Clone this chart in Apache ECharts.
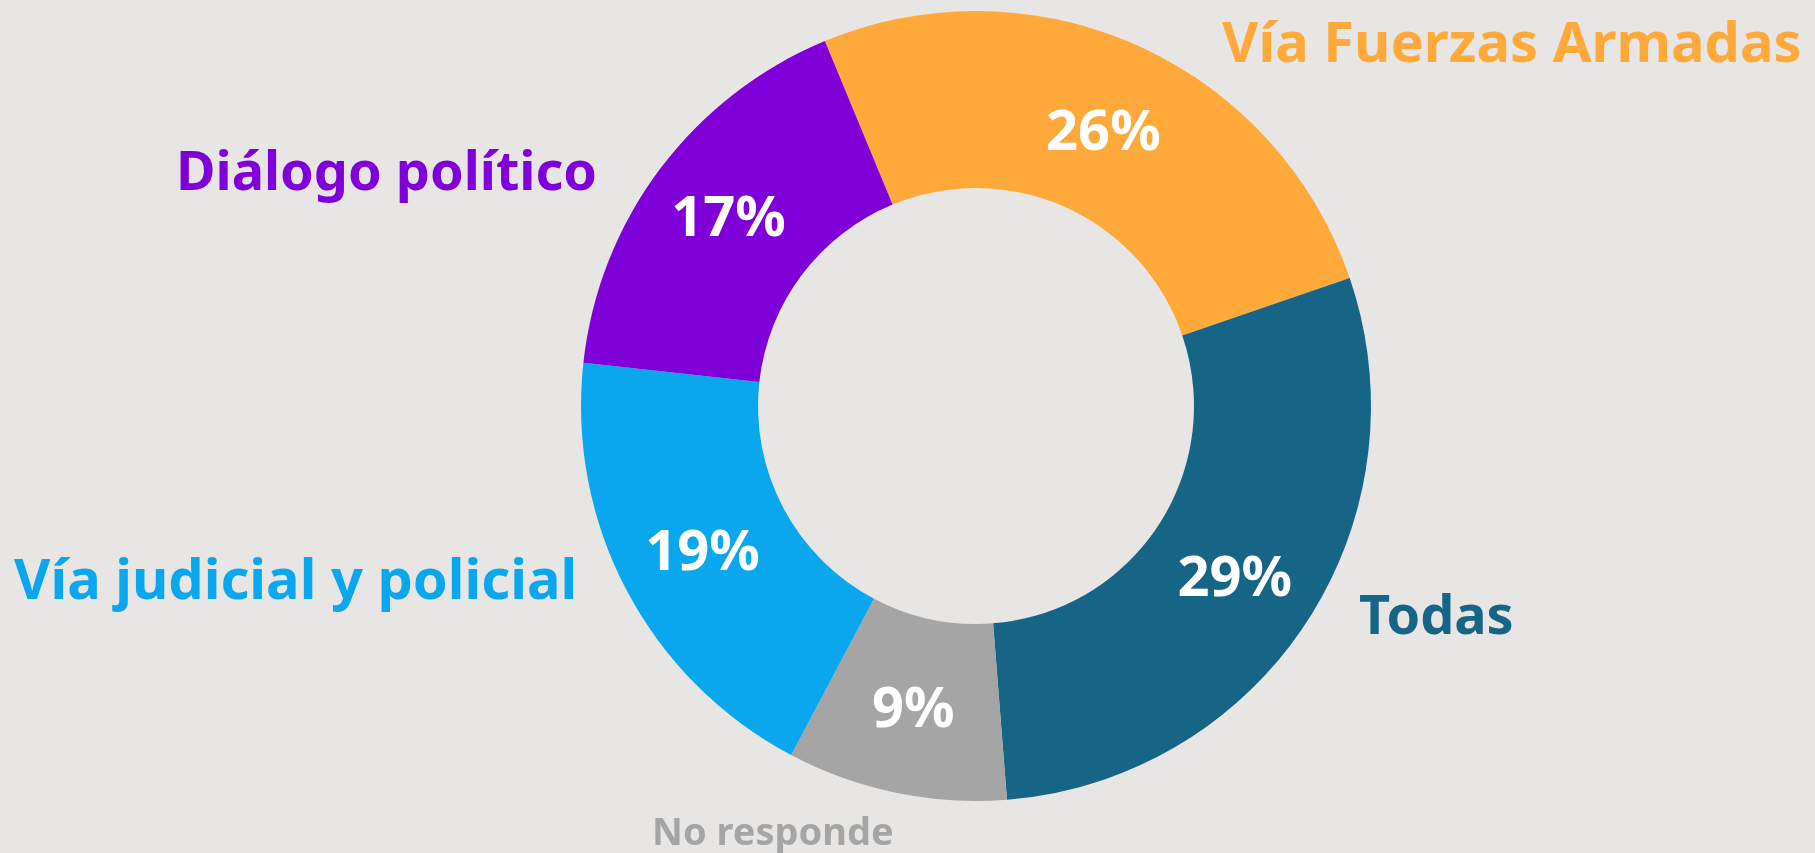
<!DOCTYPE html>
<html>
<head>
<meta charset="utf-8">
<script src="https://cdn.jsdelivr.net/npm/echarts@6/dist/echarts.min.js"></script>
<style>
  html, body { margin: 0; padding: 0; background: #E8E6E4; }
  #chart { width: 1815px; height: 853px; }
</style>
</head>
<body>
<div id="chart"></div>
<script>
// datos
const categories = ['Vía Fuerzas Armadas', 'Todas', 'No responde', 'Vía judicial y policial', 'Diálogo político'];
const values = [26, 29, 9, 19, 17];
const colors = ['#FFA93A', '#166587', '#A5A5A5', '#0AA7EE', '#7F00D9'];

// posición de los nombres: [x izquierda, y centro de mayúsculas, tamaño]
const nameLayout = [
  [1222, 46, 56],
  [1359, 619, 54],
  [652, 834, 38],
  [14, 583, 56],
  [176, 175, 54]
];
// pequeño ajuste vertical de los porcentajes
const pctOffset = [10, 4, 2, 3, 0];

const FONT = '"Noto Sans", "DejaVu Sans", sans-serif';

const myChart = echarts.init(document.getElementById('chart'));

const option = {
  backgroundColor: '#E8E6E4',
  animation: false,
  graphic: categories.map((name, i) => ({
    type: 'text',
    x: nameLayout[i][0],
    y: nameLayout[i][1],
    style: {
      text: name,
      fill: colors[i],
      font: `bold ${nameLayout[i][2]}px ${FONT}`,
      align: 'left',
      verticalAlign: 'middle'
    }
  })),
  series: [{
    type: 'pie',
    center: [976, 406],
    radius: [218, 395],
    startAngle: 112.5,
    clockwise: true,
    silent: true,
    data: categories.map((name, i) => ({
      name,
      value: values[i],
      itemStyle: {color: colors[i]}
    })),
    label: {
      show: true,
      position: 'inside',
      formatter: '{c}%',
      color: '#FFFFFF',
      fontFamily: FONT,
      fontWeight: 'bold',
      fontSize: 56
    },
    labelLayout: params => ({dy: pctOffset[params.dataIndex]}),
    labelLine: {show: false},
    itemStyle: {borderWidth: 0}
  }]
};

myChart.setOption(option);
</script>
</body>
</html>
